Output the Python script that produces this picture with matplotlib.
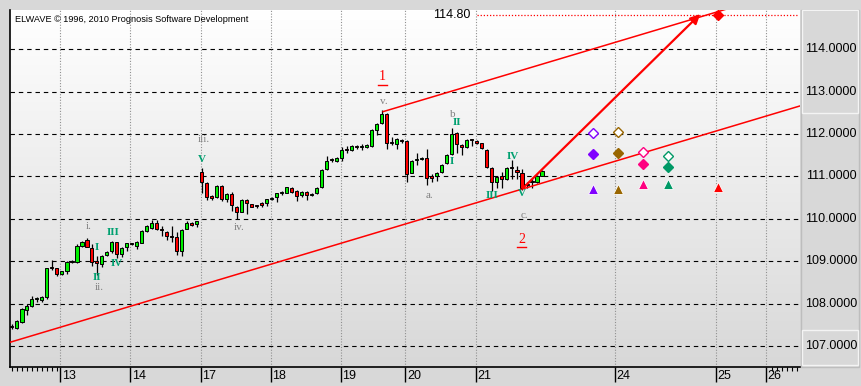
import numpy as np
import matplotlib
matplotlib.use('Agg')
import matplotlib.pyplot as plt
from matplotlib.transforms import blended_transform_factory
from matplotlib.patches import Rectangle
from matplotlib.colors import LinearSegmentedColormap

# ---------------- data ----------------
opens = [107.47,107.43,107.57,107.85,107.95,108.10,108.09,108.16,108.87,108.83,
         108.70,108.76,109.00,108.99,109.36,109.50,109.31,109.00,108.94,109.14,
         109.23,109.45,109.16,109.34,109.41,109.37,109.44,109.72,109.79,109.90,
         109.75,109.69,109.60,109.58,109.23,109.77,109.90,109.87,111.10,110.84,
         110.54,110.52,110.78,110.46,110.58,110.29,110.17,110.44,110.34,110.31,
         110.37,110.37,110.47,110.52,110.61,110.62,110.72,110.66,110.56,110.64,
         110.57,110.62,110.74,111.17,111.40,111.37,111.43,111.63,111.62,111.71,
         111.70,111.70,111.72,112.10,112.25,112.47,111.80,111.76,111.85,111.84,
         111.09,111.38,111.42,111.43,111.01,111.00,111.11,111.31,111.53,112.03,
         111.74,111.69,111.86,111.84,111.78,111.62,111.21,110.86,111.00,110.93,
         111.21,111.15,111.07,110.81,110.89,110.88,111.02]
highs = [107.52,107.62,107.90,107.98,108.17,108.16,108.17,108.85,109.04,108.85,
         108.78,109.00,109.02,109.40,109.48,109.54,109.41,109.12,109.14,109.25,
         109.47,109.46,109.34,109.44,109.43,109.47,109.73,109.86,109.98,109.98,
         109.82,109.71,109.82,109.70,109.76,109.94,109.92,109.96,111.19,110.86,
         110.56,110.80,110.80,110.60,110.63,110.31,110.46,110.46,110.36,110.33,
         110.39,110.48,110.51,110.62,110.66,110.76,110.74,110.68,110.66,110.66,
         110.60,110.74,111.17,111.48,111.43,111.45,111.70,111.73,111.74,111.75,
         111.77,111.76,112.12,112.27,112.57,112.49,111.92,111.90,111.88,111.86,
         111.38,111.55,111.46,111.64,111.05,111.11,111.29,111.52,112.14,112.05,
         111.76,111.88,111.87,111.86,111.80,111.64,111.23,111.00,111.10,111.23,
         111.40,111.25,111.17,110.88,110.95,111.03,111.15]
lows = [107.40,107.40,107.55,107.73,107.93,108.04,108.03,108.12,108.80,108.64,
        108.68,108.70,108.96,108.97,109.34,109.33,108.89,108.68,108.86,109.12,
        109.20,109.07,109.10,109.24,109.38,109.30,109.42,109.70,109.77,109.73,
        109.60,109.50,109.45,109.15,109.12,109.75,109.83,109.80,110.60,110.45,
        110.45,110.50,110.42,110.40,110.18,110.00,110.15,110.12,110.27,110.26,
        110.28,110.30,110.45,110.40,110.56,110.60,110.62,110.42,110.52,110.45,
        110.54,110.58,110.72,111.15,111.33,111.35,111.36,111.55,111.60,111.65,
        111.62,111.68,111.70,111.98,112.23,111.64,111.74,111.64,111.80,110.88,
        111.07,111.27,111.38,110.80,110.88,110.90,111.09,111.29,111.51,111.55,
        111.50,111.67,111.72,111.76,111.64,111.21,110.66,110.72,110.72,110.91,
        110.95,110.95,110.68,110.72,110.72,110.85,111.00]
closes = [107.44,107.58,107.87,107.95,108.12,108.11,108.15,108.83,108.83,108.70,
          108.76,108.99,108.98,109.36,109.46,109.34,108.99,108.95,109.12,109.22,
          109.45,109.16,109.32,109.42,109.40,109.45,109.71,109.82,109.91,109.75,
          109.74,109.60,109.57,109.25,109.74,109.90,109.85,109.94,110.86,110.52,
          110.50,110.78,110.47,110.58,110.33,110.17,110.44,110.38,110.29,110.30,
          110.33,110.46,110.48,110.60,110.62,110.74,110.64,110.55,110.64,110.56,
          110.58,110.72,111.15,111.36,111.38,111.43,111.62,111.62,111.72,111.70,
          111.71,111.74,112.10,112.24,112.47,111.80,111.78,111.88,111.84,111.06,
          111.36,111.39,111.44,110.96,110.96,111.09,111.27,111.50,111.99,111.77,
          111.69,111.86,111.85,111.78,111.66,111.23,110.88,110.98,110.93,111.21,
          111.19,111.11,110.73,110.80,110.86,111.01,111.13]

day_labels = ['13', '14', '17', '18', '19', '20', '21', '24', '25', '26']
day_index = [9.7, 23.7, 37.8, 51.8, 65.8, 78.76, 92.8, 120.66, 140.8, 150.8]

price_levels = [107, 108, 109, 110, 111, 112, 113, 114]
price_labels = ['107.0000', '108.0000', '109.0000', '110.0000',
                '111.0000', '112.0000', '113.0000', '114.0000']

# channel lines (index, price anchors)
lower_idx = [0.0, 155.0]
lower_price = [107.10, 112.57]
upper_idx = [74.3, 143.0]
upper_price = [112.53, 114.95]

# projection arrow and target
arrow_start = (102.3, 110.73)
arrow_end = (137.7, 114.83)
target_level = 114.80
target_idx = 141.3

# wave labels: text, index, price, colour-key
waves = [('i.', 15.3, 109.82, 'g'), ('I', 17.1, 109.33, 't'), ('II', 17.0, 108.61, 't'),
         ('ii.', 17.5, 108.38, 'g'), ('III', 20.2, 109.67, 't'), ('IV', 21.1, 108.94, 't'),
         ('iii.', 38.5, 111.88, 'g'), ('V', 38.1, 111.41, 't'), ('iv.', 45.5, 109.79, 'g'),
         ('v.', 74.5, 112.76, 'g'), ('b', 88.2, 112.45, 'g'), ('II', 89.1, 112.28, 't'),
         ('I', 88.1, 111.35, 't'), ('a.', 83.5, 110.56, 'g'), ('III', 96.1, 110.54, 't'),
         ('IV', 100.2, 111.48, 't'), ('V', 102.1, 110.59, 't'), ('c.', 102.5, 110.07, 'g')]
degree_labels = [('1', 74.1, 113.35), ('2', 102.0, 109.52)]

# projection markers: colour, index, hollow diamond, filled diamond, triangle
proj_colors = ['#8000ff', '#996600', '#ff0080', '#009966']
proj_index = [116.3, 121.3, 126.3, 131.3]
proj_hollow = [112.02, 112.06, 111.58, 111.49]
proj_filled = [111.52, 111.55, 111.29, 111.23]
proj_tri = [110.70, 110.70, 110.82, 110.82]
red_tri = (141.3, 110.74)

# ---------------- figure ----------------
W, H = 862, 386
fig = plt.figure(figsize=(W / 100, H / 100), dpi=100)
fig.patch.set_facecolor('#d8d8d8')

L, R, T, B = 10, 800, 10, 367
ax = fig.add_axes([L / W, (H - B) / H, (R - L) / W, (B - T) / H])
xlim = (-0.34, 157.66)
ylim = (106.505, 114.927)

grad = LinearSegmentedColormap.from_list('g', ['#d8d8d8', '#ffffff'])
ax.imshow(np.linspace(1, 0, 256).reshape(-1, 1), extent=[xlim[0], xlim[1], ylim[0], ylim[1]],
          cmap=grad, aspect='auto', zorder=0, interpolation='bilinear')
ax.set_xlim(*xlim)
ax.set_ylim(*ylim)

for s in ['top', 'right']:
    ax.spines[s].set_visible(False)
ax.spines['left'].set_linewidth(1.2)
ax.spines['bottom'].set_linewidth(1.2)

# grid
for p in price_levels:
    ax.axhline(p, color='black', lw=0.8, dashes=(4, 3.5), zorder=1)
for d in day_index:
    ax.axvline(d, color='#909090', lw=0.8, ls=(0, (1, 1.5)), zorder=1)

# candles
x = np.arange(len(opens))
o = np.array(opens); h = np.array(highs); l = np.array(lows); c = np.array(closes)
ax.vlines(x, l, h, color='black', lw=0.9, zorder=3)
up = c >= o
bottoms = np.minimum(o, c)
heights = np.maximum(np.abs(c - o), 0.025)
ax.bar(x[up], heights[up], bottom=bottoms[up], width=0.72, color='#00f000',
       edgecolor='black', linewidth=0.7, zorder=4)
ax.bar(x[~up], heights[~up], bottom=bottoms[~up], width=0.72, color='#ff0000',
       edgecolor='black', linewidth=0.7, zorder=4)

# channel
xx = np.array(xlim)
s_low = (lower_price[1] - lower_price[0]) / (lower_idx[1] - lower_idx[0])
ax.plot(xx, lower_price[0] + s_low * (xx - lower_idx[0]), color='red', lw=1.1, zorder=5)
s_up = (upper_price[1] - upper_price[0]) / (upper_idx[1] - upper_idx[0])
ux = np.array([upper_idx[0], 150])
ax.plot(ux, upper_price[0] + s_up * (ux - upper_idx[0]), color='red', lw=1.1, zorder=5)

# target line and text
ax.plot([93, 157.3], [target_level, target_level], color='red', lw=0.9, ls=(0, (1, 1.5)), zorder=5)
ax.text(88.0, target_level, f'{target_level:.2f}', fontsize=9, family='Liberation Sans',
        ha='center', va='center', zorder=6)
ax.annotate('', xy=arrow_end, xytext=arrow_start,
            arrowprops=dict(arrowstyle='-|>', color='red', lw=1.6, mutation_scale=14,
                            shrinkA=0, shrinkB=0), zorder=6)
ax.plot([target_idx], [target_level], marker='D', ms=5, color='red', mec='red', zorder=7)

# projection markers
for col, xi, ph, pf, pt in zip(proj_colors, proj_index, proj_hollow, proj_filled, proj_tri):
    ax.plot([xi], [ph], marker='D', ms=5.2, mfc='white', mec=col, mew=1.0, zorder=7)
    ax.plot([xi], [pf], marker='D', ms=5.2, mfc=col, mec=col, zorder=7)
    ax.plot([xi], [pt], marker='^', ms=6.5, mfc=col, mec='white', mew=0.6, zorder=7)
ax.plot([red_tri[0]], [red_tri[1]], marker='^', ms=6.5, mfc='red', mec='white', mew=0.6, zorder=7)

# wave labels
cols = {'g': '#808080', 't': '#00a070'}
for txt, xi, pi, k in waves:
    ax.text(xi, pi, txt, color=cols[k], fontsize=8, family='Liberation Serif',
            fontweight='bold' if k == 't' else 'normal', ha='center', va='center', zorder=8)
for txt, xi, pi in degree_labels:
    ax.text(xi, pi, txt, color='red', fontsize=10, family='Liberation Serif',
            ha='center', va='center', zorder=8)
    ax.plot([xi - 0.9, xi + 0.9], [pi - 0.19, pi - 0.19], color='red', lw=1.0, zorder=8)

# copyright
ax.text(0.006, 0.985, 'ELWAVE \u00a9 1996, 2010 Prognosis Software Development', transform=ax.transAxes,
        fontsize=6.6, family='Liberation Sans', ha='left', va='top', zorder=8)

# x axis
ax.set_yticks([])
ax.set_xticks(day_index)
ax.set_xticklabels([])
ax.tick_params(axis='x', which='major', length=11, width=1.0, color='black')
ax.set_xticks(list(range(0, 10)) + list(range(152, 158)), minor=True)
ax.tick_params(axis='x', which='minor', length=3, width=0.8, color='black')
tr = blended_transform_factory(ax.transData, ax.transAxes)
for d, lab in zip(day_index, day_labels):
    ax.text(d + 0.35, -0.008, lab, transform=tr, fontsize=9, family='Liberation Sans',
            ha='left', va='top', clip_on=False)

# right price panel
panel = Rectangle((801 / W, (H - B) / H), 58 / W, (B - T) / H, transform=fig.transFigure,
                  facecolor='#d8d8d8', edgecolor='#bdbdbd', lw=1.0, zorder=-5)
fig.patches.append(panel)
box1 = Rectangle((802 / W, (H - 113) / H), 56 / W, 103 / H, transform=fig.transFigure,
                 facecolor='none', edgecolor='#f4f4f4', lw=1.0, zorder=-4)
fig.patches.append(box1)
box2 = Rectangle((802 / W, (H - 365) / H), 56 / W, 35 / H, transform=fig.transFigure,
                 facecolor='none', edgecolor='#f4f4f4', lw=1.0, zorder=-4)
fig.patches.append(box2)
tr2 = blended_transform_factory(fig.transFigure, ax.transData)
for p, lab in zip(price_levels, price_labels):
    ax.text(831 / W, p, lab, transform=tr2, fontsize=9, family='Liberation Sans',
            ha='center', va='center', clip_on=False, zorder=10)

fig.savefig('out.png', dpi=100, facecolor=fig.get_facecolor())
